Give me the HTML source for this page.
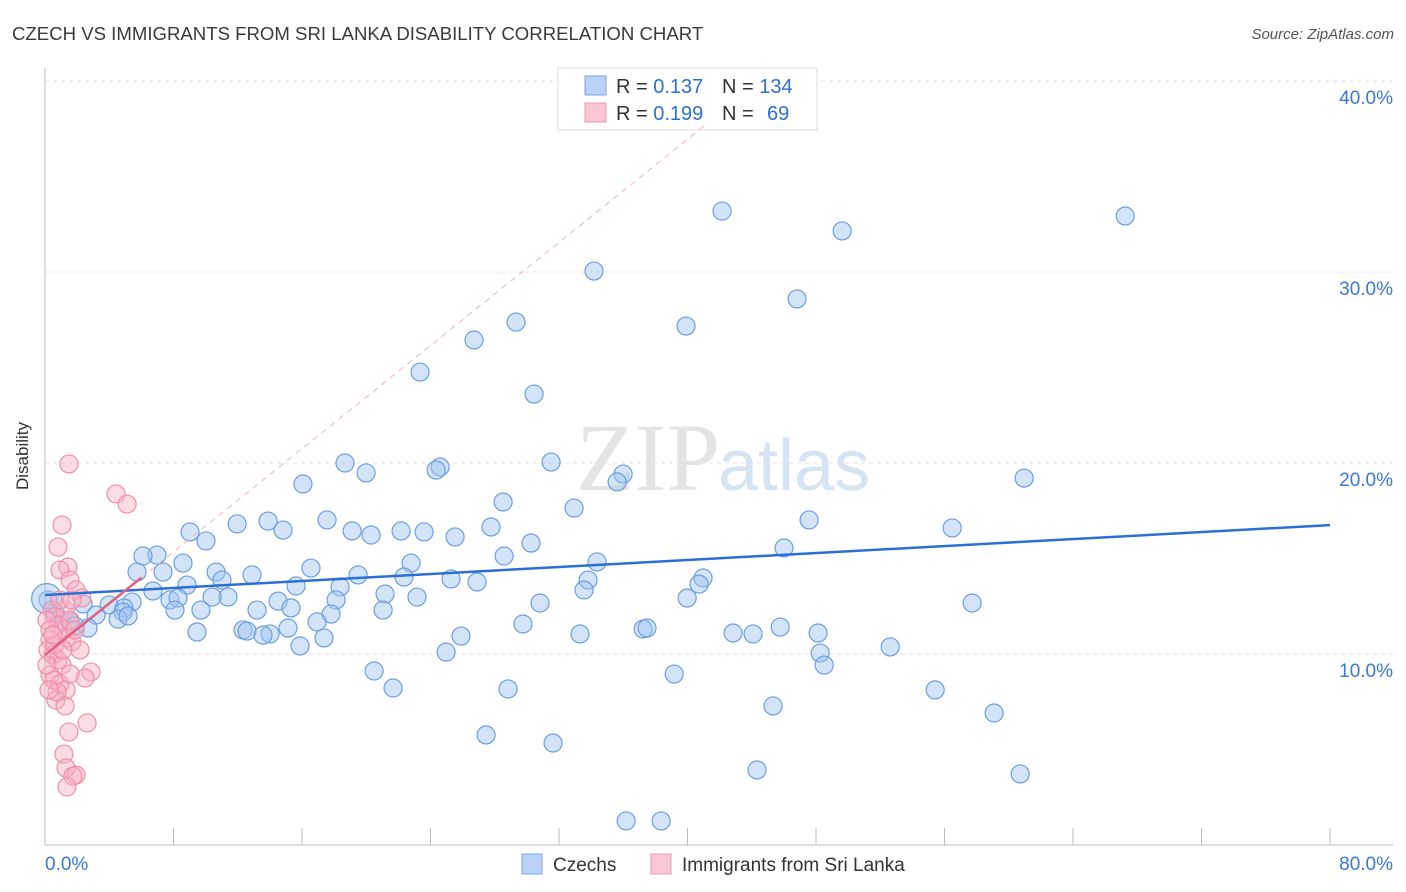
<!DOCTYPE html>
<html><head><meta charset="utf-8"><style>
body{margin:0;background:#fff;font-family:"Liberation Sans",sans-serif;}
svg{display:block}
</style></head><body>
<svg width="1406" height="892" viewBox="0 0 1406 892">
<text x="12" y="40" font-size="18.6" fill="#3a3a3a">CZECH VS IMMIGRANTS FROM SRI LANKA DISABILITY CORRELATION CHART</text>
<text x="1394" y="39" font-size="15" fill="#555" font-style="italic" text-anchor="end">Source: ZipAtlas.com</text>
<g id="grid"></g>
<text x="720" y="490" font-size="96" fill="#e4e4e4" text-anchor="end" font-family="Liberation Serif,serif">ZIP</text>
<text x="718" y="490" font-size="72" fill="#d6e3f3">atlas</text>
<g id="pts"></g>
<g>
<rect x="558" y="68" width="259" height="62" fill="#fff" stroke="#ddd"/>
<rect x="585" y="76" width="21" height="19" fill="#b8d3f5" stroke="#7aa6e0"/>
<rect x="585" y="103" width="21" height="19" fill="#f9c6d4" stroke="#ef9ab2"/>
<text x="616" y="93" font-size="20" fill="#333">R = <tspan fill="#2f6fd0">0.137</tspan><tspan x="722">N = </tspan><tspan fill="#2f6fd0">134</tspan></text>
<text x="616" y="120" font-size="20" fill="#333">R = <tspan fill="#2f6fd0">0.199</tspan><tspan x="722">N = </tspan><tspan x="767" fill="#2f6fd0">69</tspan></text>
</g>
<g id="lines"></g>
<text x="28" y="456" font-size="17" fill="#333" text-anchor="middle" transform="rotate(-90 28 456)">Disability</text>
<g>
<rect x="522" y="854" width="20" height="20" fill="#b8d3f5" stroke="#7aa6e0"/>
<text x="553" y="871" font-size="19" fill="#333">Czechs</text>
<rect x="651" y="854" width="20" height="20" fill="#f9c6d4" stroke="#ef9ab2"/>
<text x="682" y="871" font-size="19" fill="#333">Immigrants from Sri Lanka</text>
</g>
</svg>
<script>
const yTicks=[10,20,30,40];
const yTickLabels=["10.0%","20.0%","30.0%","40.0%"];
const xTicks=[0,8,16,24,32,40,48,56,64,72,80];
const xEndLabels=["0.0%","80.0%"];
const czX=[42.15,67.25,49.63,34.18,46.82,29.33,39.91,26.71,23.35,30.45,18.68,19.99,31.51,24.60,24.35,35.99,35.62,60.96,16.06,28.52,32.94,47.57,56.48,17.56,11.96,13.89,14.82,9.03,19.12,20.30,22.17,23.60,27.77,25.53,10.02,30.26,6.97,6.10,28.58,46.01,34.37,22.79,8.59,16.56,5.73,7.35,10.65,12.89,19.49,22.35,25.28,26.90,33.81,40.97,11.02,15.63,8.84,18.37,6.72,40.72,33.56,21.17,23.16,11.39,10.40,7.78,8.28,18.12,39.98,30.82,57.72,14.51,5.42,3.99,4.92,2.37,8.09,9.71,13.20,15.32,21.05,17.81,4.86,3.18,4.55,5.17,16.94,15.13,29.76,37.24,37.48,45.77,48.13,42.84,44.08,12.33,12.58,14.01,13.57,9.46,25.90,33.31,17.37,15.88,52.62,24.97,48.26,48.51,20.49,39.17,21.67,28.83,55.42,45.33,59.09,27.46,31.63,44.33,60.71,36.18,38.36,0.62,0.93,1.56,2.68,1.87,0.19,0.1];
const czY=[33.19,32.93,32.15,30.05,28.59,27.38,27.17,26.44,24.76,23.61,20.0,19.48,20.05,19.79,19.63,19.42,19.01,19.21,18.90,17.96,17.64,17.02,16.60,17.02,16.81,16.96,16.49,16.39,16.44,16.23,16.44,16.39,16.65,16.13,15.92,15.81,15.18,15.13,15.13,15.55,14.82,14.76,14.76,14.50,14.29,14.29,14.29,14.14,14.14,14.03,13.93,13.77,13.87,13.98,13.87,13.56,13.61,13.51,13.30,13.66,13.35,13.14,12.98,12.98,12.98,12.83,12.93,12.83,12.93,12.67,12.67,12.77,12.72,12.57,12.41,12.62,12.30,12.30,12.30,12.41,12.30,12.09,12.20,12.04,11.83,11.99,11.68,11.36,11.57,11.31,11.36,11.41,11.10,11.10,11.05,11.26,11.20,11.05,10.99,11.15,10.94,11.05,10.84,10.42,10.37,10.10,10.05,9.42,9.11,8.95,8.22,8.17,8.12,7.28,6.91,5.76,5.34,3.93,3.72,1.26,1.26,12.20,11.78,11.68,11.36,11.47,12.83,12.9];
const slX=[1.49,4.42,5.11,1.06,0.81,1.43,0.93,1.56,1.93,2.30,0.44,0.62,0.81,1.12,1.37,1.68,0.31,0.19,0.50,0.81,1.06,0.31,0.56,0.93,1.31,0.68,1.25,2.86,2.49,1.56,2.18,0.12,0.31,0.62,1.25,1.56,1.87,1.12,0.75,2.62,1.49,1.18,1.31,1.93,1.74,1.37,0.12,0.25,0.50,0.93,1.68];
const slY=[19.95,18.38,17.85,16.75,15.60,14.55,14.40,13.87,13.35,12.93,12.30,11.94,11.52,11.26,10.84,10.63,10.73,10.21,9.95,9.69,9.42,8.90,8.64,8.43,8.12,7.59,7.28,9.06,8.74,8.95,10.21,11.78,11.26,10.47,12.30,11.78,11.26,10.21,8.01,6.39,5.92,4.76,4.03,3.66,3.61,3.04,9.42,8.12,11.0,12.83,12.83];
const czTrend=[13.09,16.75];
const slTrend=[9.95,0.675];
const NS="http://www.w3.org/2000/svg";
const X=v=>45+v*16.0625, Y=v=>845-v*19.1;
function mk(t,a,p){const e=document.createElementNS(NS,t);for(const k in a)e.setAttribute(k,a[k]);p.appendChild(e);return e;}
const grid=document.getElementById('grid');
yTicks.forEach((t,i)=>{
 const l=mk('line',{x1:45,x2:1393,y1:Y(t),y2:Y(t),stroke:'#e2e2e2','stroke-dasharray':'4,4'},grid);
 
 
 const tx=mk('text',{x:1393,y:Y(t)+23,'font-size':19,fill:'#3a78d4','text-anchor':'end'},grid);
 tx.textContent=yTickLabels[i];
 
 
});
const ax=mk('line',{x1:45,x2:1393,y1:845,y2:845,stroke:'#bbb'},grid);


const ay=mk('line',{x1:45,x2:45,y1:68,y2:845,stroke:'#bbb'},grid);


xTicks.forEach(t=>{const l=mk('line',{x1:X(t),x2:X(t),y1:828,y2:845,stroke:'#bbb'},grid);
 
 });
[[0,'start',xEndLabels[0]],[80,'end',xEndLabels[1]]].forEach(([v,a,s])=>{
 const tx=mk('text',{x:v==0?45:1393,y:870,'font-size':19,fill:'#3a78d4','text-anchor':a},grid);tx.textContent=s;
 
 });
const pts=document.getElementById('pts');
czX.forEach((x,i)=>{const c=mk('circle',{cx:X(x),cy:Y(czY[i]),r:i==czX.length-1?15:9,fill:'rgba(160,196,240,0.45)',stroke:'#6b9fe0','stroke-width':1.2},pts);
 
 });
slX.forEach((x,i)=>{const c=mk('circle',{cx:X(x),cy:Y(slY[i]),r:9,fill:'rgba(247,175,196,0.45)',stroke:'#ef8fab','stroke-width':1.2},pts);
 
 });
const lines=document.getElementById('lines');
const bl=mk('line',{x1:X(0),y1:Y(czTrend[0]),x2:X(80),y2:Y(czTrend[1]),stroke:'#2a6fd6','stroke-width':2.5},lines);


const yEnd=37.8;
const xe=(yEnd-slTrend[0])/slTrend[1];
const pd=mk('line',{x1:X(6),y1:Y(slTrend[0]+6*slTrend[1]),x2:X(xe),y2:Y(yEnd),stroke:'#f0b4c5','stroke-width':1,'stroke-dasharray':'6,5'},lines);


const ps=mk('line',{x1:X(0),y1:Y(slTrend[0]),x2:X(6),y2:Y(slTrend[0]+6*slTrend[1]),stroke:'#e0607f','stroke-width':2.5},lines);


</script>
</body></html>
